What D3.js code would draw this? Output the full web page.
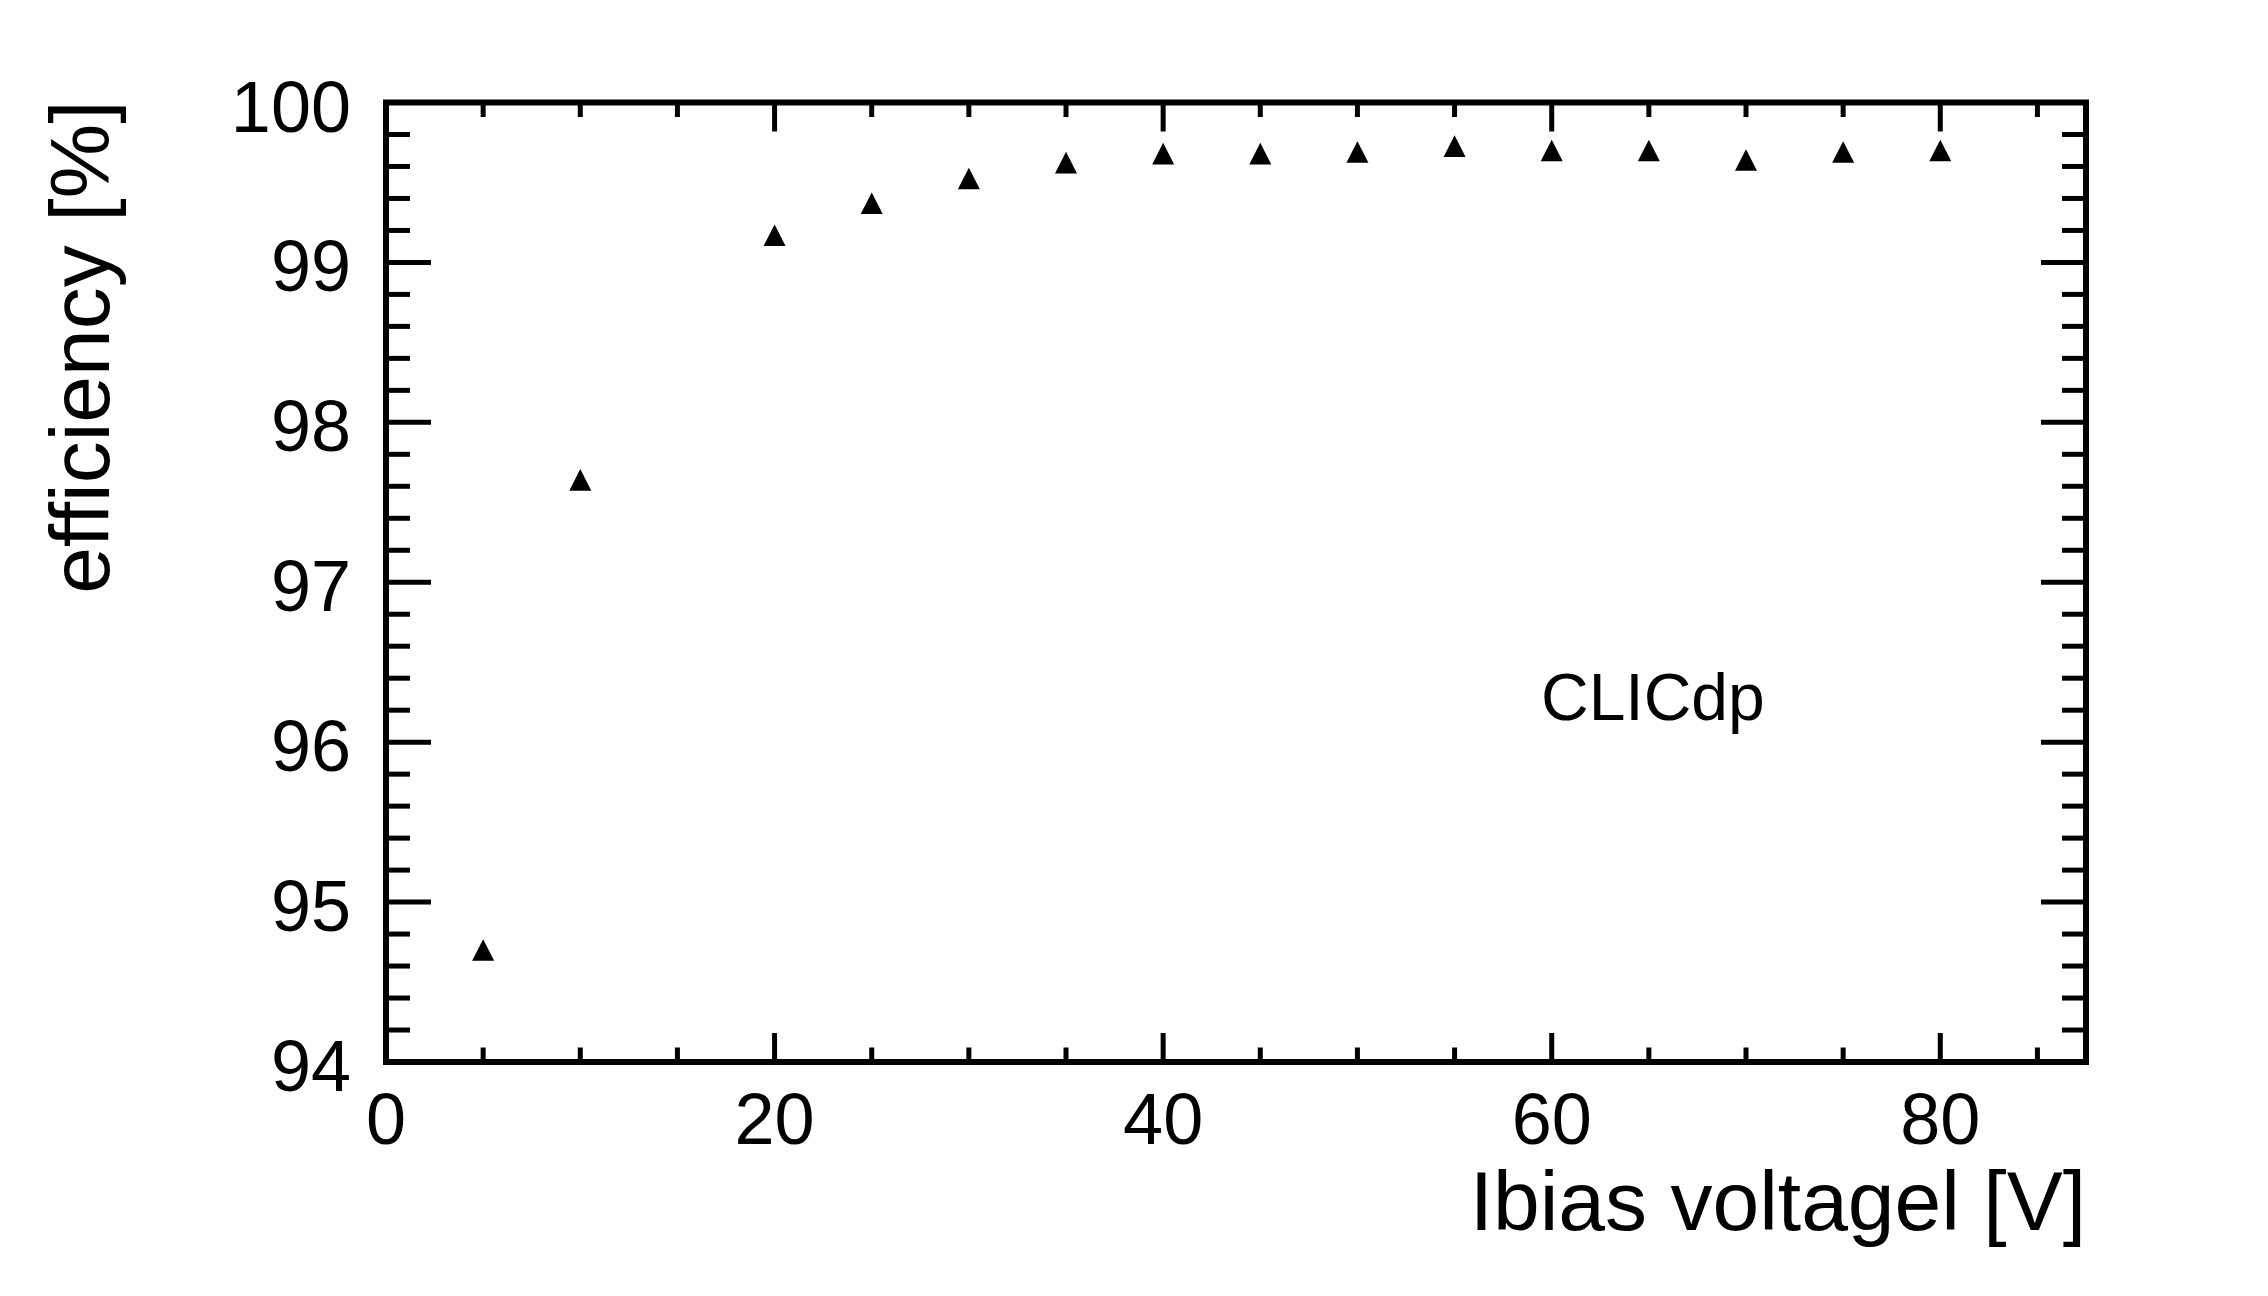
<!DOCTYPE html>
<html>
<head>
<meta charset="utf-8">
<script src="https://cdn.jsdelivr.net/npm/d3@7"></script>
<style>
  html, body { margin: 0; padding: 0; background: #fff; }
  svg { display: block; }
  text { font-family: "Liberation Sans", Arial, Helvetica, sans-serif; fill: #000; }
</style>
</head>
<body>
<svg id="chart" width="2268" height="1296"></svg>
<script>
// ---- data ----
const voltage = [5, 10, 20, 25, 30, 35, 40, 45, 50, 55, 60, 65, 70, 75, 80];
const efficiency = [94.70, 97.64, 99.17, 99.37, 99.525, 99.624, 99.68, 99.68, 99.69, 99.727, 99.70, 99.70, 99.64, 99.69, 99.70];
const xTickValues = [0, 20, 40, 60, 80];
const yTickValues = [94, 95, 96, 97, 98, 99, 100];
const xTitle = "Ibias voltagel [V]";
const yTitle = "efficiency [%]";
const label = "CLICdp";

(function () {
  // ---- layout ----
  const W = 2268, H = 1296;
  const pLeft = 386, pRight = 2086, pTop = 102.5, pBottom = 1062;

  const svg = d3.select("#chart");
  svg.append("rect").attr("width", W).attr("height", H).attr("fill", "#fff");

  const x = d3.scaleLinear().domain([0, 87.5]).range([pLeft, pRight]);
  const y = d3.scaleLinear().domain([94, 100]).range([pBottom, pTop]);

  const g = svg.append("g");
  const tickW = 5;

  const xMinor = d3.range(0, 87.5, 5).filter(v => v % 20 !== 0);
  const yMinor = d3.range(94, 100.0001, 0.2).map(v => +v.toFixed(1))
    .filter(v => Math.abs(v - Math.round(v)) > 1e-6);

  function xTicks(vals, len) {
    vals.forEach(v => {
      g.append("line").attr("x1", x(v)).attr("x2", x(v))
        .attr("y1", pBottom).attr("y2", pBottom - len)
        .attr("stroke", "#000").attr("stroke-width", tickW);
      g.append("line").attr("x1", x(v)).attr("x2", x(v))
        .attr("y1", pTop).attr("y2", pTop + len)
        .attr("stroke", "#000").attr("stroke-width", tickW);
    });
  }
  xTicks(xTickValues, 29);
  xTicks(xMinor, 14.5);

  function yTicks(vals, len) {
    vals.forEach(v => {
      g.append("line").attr("y1", y(v)).attr("y2", y(v))
        .attr("x1", pLeft).attr("x2", pLeft + len)
        .attr("stroke", "#000").attr("stroke-width", tickW);
      g.append("line").attr("y1", y(v)).attr("y2", y(v))
        .attr("x1", pRight).attr("x2", pRight - len)
        .attr("stroke", "#000").attr("stroke-width", tickW);
    });
  }
  yTicks(yTickValues, 45);
  yTicks(yMinor, 24);

  // frame
  g.append("rect").attr("x", pLeft).attr("y", pTop)
    .attr("width", pRight - pLeft).attr("height", pBottom - pTop)
    .attr("fill", "none").attr("stroke", "#000").attr("stroke-width", 6);

  // tick labels
  g.selectAll(".xl").data(xTickValues).enter().append("text")
    .attr("x", d => x(d)).attr("y", 1144)
    .attr("text-anchor", "middle").attr("font-size", 72)
    .text(d => d);
  g.selectAll(".yl").data(yTickValues).enter().append("text")
    .attr("x", 351).attr("y", d => y(d) + 29)
    .attr("text-anchor", "end").attr("font-size", 72)
    .text(d => d);

  // axis titles
  g.append("text").attr("x", pRight).attr("y", 1230)
    .attr("text-anchor", "end").attr("font-size", 84).text(xTitle);
  g.append("text")
    .attr("transform", `translate(109, ${pTop - 2}) rotate(-90)`)
    .attr("text-anchor", "end").attr("font-size", 84).text(yTitle);

  // label
  g.append("text").attr("x", 1541).attr("y", 720)
    .attr("font-size", 66).text(label);

  // markers (triangles)
  const hw = 11, hh = 10.8;
  g.selectAll(".pt").data(voltage.map((v, i) => [v, efficiency[i]])).enter()
    .append("path")
    .attr("d", d => {
      const cx = x(d[0]), cy = y(d[1]);
      return `M${cx - hw},${cy + hh}L${cx + hw},${cy + hh}L${cx},${cy - hh}Z`;
    })
    .attr("fill", "#000");
})();
</script>
</body>
</html>
